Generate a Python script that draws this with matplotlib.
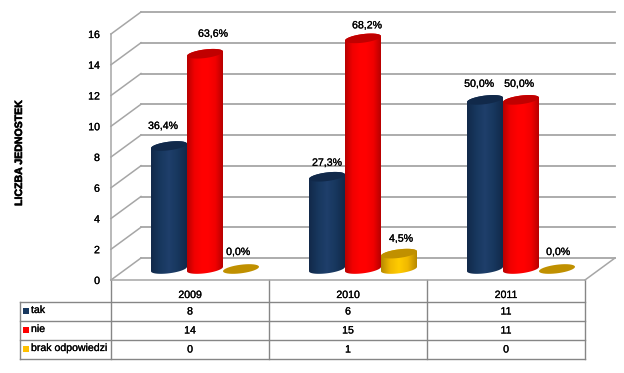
import numpy as np
import matplotlib
matplotlib.use('Agg')
import matplotlib.pyplot as plt
import matplotlib.patheffects as pe
from matplotlib.colors import LinearSegmentedColormap
from matplotlib.patches import Polygon
from matplotlib.transforms import IdentityTransform, ScaledTranslation, blended_transform_factory

years = ['2009', '2010', '2011']
series = ['tak', 'nie', 'brak odpowiedzi']
tak = [8, 6, 11]
nie = [14, 15, 11]
brak = [0, 1, 0]
tak_pct = ['36,4%', '27,3%', '50,0%']
nie_pct = ['63,6%', '68,2%', '50,0%']
brak_pct = ['0,0%', '4,5%', '0,0%']
y_ticks = [0, 2, 4, 6, 8, 10, 12, 14, 16]

# label shift from bar top, pixels
tak_dx = [-6, 0, -6]
nie_dx = [8, 4, -2]
brak_dx = [-3, 2, 1]
tak_dy = [20, 14, 16]
nie_dy = [20, 13, 16]
brak_dy = [17, 15, 17]

W, H = 624, 373
DEPTH_X, DEPTH_Y = 30, 22
RX, RY, TILT = 18, 4.3, 2.2
GRID = '#a6a6a6'
LINE = '#868686'
FS = 7.6

plt.rcParams['font.family'] = ['Liberation Sans', 'DejaVu Sans']
plt.rcParams['font.size'] = FS
heavy = [pe.withStroke(linewidth=0.18, foreground='black')]

fig = plt.figure(figsize=(W / 100, H / 100), dpi=100, facecolor='white')

# pixel layer for table lines
frame = fig.add_axes([0, 0, 1, 1])
frame.set_xlim(0, W)
frame.set_ylim(H, 0)
frame.axis('off')

ax = fig.add_axes([111 / W, (H - 280) / H, 474 / W, 246 / H])
ax.set_xlim(-0.5, 2.5)
ax.set_ylim(0, 16)
ax.patch.set_alpha(0)
for s in ['top', 'right']:
    ax.spines[s].set_visible(False)
for s in ['left', 'bottom']:
    ax.spines[s].set_color(GRID)
    ax.spines[s].set_linewidth(1.1)
ax.set_xticks([])
ax.set_yticks(y_ticks)
ax.tick_params(axis='y', length=0, pad=8, labelsize=FS)
for t in ax.get_yticklabels():
    t.set_path_effects(heavy)
ax.set_ylabel('LICZBA JEDNOSTEK', fontweight='bold', fontsize=7.6, labelpad=0,
              path_effects=[pe.withStroke(linewidth=0.4, foreground='black')])
ax.yaxis.set_label_coords(-87 / 474, 0.515)

# back wall grid
back = ax.transData + ScaledTranslation(DEPTH_X / 100, DEPTH_Y / 100, fig.dpi_scale_trans)
for v in y_ticks:
    ax.plot([-0.5, 2.5], [v, v], color=GRID, lw=1.3, transform=back, clip_on=False, zorder=1)
    p0 = ax.transData.transform((-0.5, v))
    ax.plot([p0[0], p0[0] + DEPTH_X], [p0[1], p0[1] + DEPTH_Y], color=GRID, lw=1.1,
            transform=IdentityTransform(), clip_on=False, zorder=1)
p1 = ax.transData.transform((2.5, 0))
ax.plot([p1[0], p1[0] + DEPTH_X], [p1[1], p1[1] + DEPTH_Y], color=GRID, lw=1.1,
        transform=IdentityTransform(), clip_on=False, zorder=1)


def ellipse_pts(cx, cy, t0, t1, n=40):
    t = np.linspace(t0, t1, n)
    return np.column_stack([cx + RX * np.cos(t), cy + RY * np.sin(t) + TILT * np.cos(t)])


def cylinder(cat, slot, value, shades, top_color, label, dx, dy):
    # slot centre in categories, then shifted half way into the depth
    base = ax.transData.transform((cat + (slot - 1) * 36 / 158, 0))
    top = ax.transData.transform((cat + (slot - 1) * 36 / 158, value))
    cx = base[0] + 15
    y0 = base[1] + 11
    y1 = top[1] + 11
    if value > 0:
        outline = np.vstack([ellipse_pts(cx, y1, 0, np.pi), ellipse_pts(cx, y0, np.pi, 2 * np.pi)])
        body = Polygon(outline, closed=True, transform=IdentityTransform(), fc='none', ec='none')
        ax.add_patch(body)
        cmap = LinearSegmentedColormap.from_list('c', shades)
        inv = ax.transData.inverted()
        a = inv.transform((cx - RX, y0 - RY - 3))
        b = inv.transform((cx + RX, y1 + RY + 3))
        im = ax.imshow(np.linspace(0, 1, 72).reshape(1, -1), cmap=cmap, aspect='auto',
                       extent=[a[0], b[0], a[1], b[1]], zorder=3, interpolation='bilinear')
        im.set_clip_path(body)
        im.set_clip_box(fig.bbox)
    ax.add_patch(Polygon(ellipse_pts(cx, y1, 0, 2 * np.pi), closed=True, transform=IdentityTransform(),
                         fc=top_color, ec='none', zorder=3, clip_on=False))
    ax.text(cx + dx, y1 + dy, label, transform=IdentityTransform(), ha='center', va='center',
            fontsize=FS, color='black', clip_on=False, zorder=4, path_effects=heavy)


navy = ['#12294a', '#17375e', '#1f3f6b', '#17375e', '#12294a']
red = ['#b80000', '#f00000', '#ff0000', '#ff0000', '#f00000', '#b80000']
yellow = ['#b88a00', '#f0b800', '#ffcc00', '#f0b800', '#b88a00']

for i in range(3):
    cylinder(i, 0, tak[i], navy, '#11294a', tak_pct[i], tak_dx[i], tak_dy[i])
    cylinder(i, 1, nie[i], red, '#c00000', nie_pct[i], nie_dx[i], nie_dy[i])
    cylinder(i, 2, brak[i], yellow, '#c09000', brak_pct[i], brak_dx[i], brak_dy[i])
ax.set_xlim(-0.5, 2.5)
ax.set_ylim(0, 16)

# data table
row_y = [280, 302, 321, 340, 359]
col_x = [20, 111, 269, 427, 585]
for x in col_x[1:]:
    frame.plot([x, x], [row_y[0], row_y[-1]], color=LINE, lw=1)
frame.plot([col_x[0], col_x[0]], [row_y[1], row_y[-1]], color=LINE, lw=1)
for y in row_y[1:]:
    frame.plot([col_x[0], col_x[-1]], [y, y], color=LINE, lw=1)

cells = [tak, nie, brak]
swatch = ['#17375e', '#ff0000', '#ffc000']
xt = blended_transform_factory(ax.transData, frame.transData)
for i, year in enumerate(years):
    ax.text(i, 295, year, transform=xt, ha='center', va='center', fontsize=FS, clip_on=False, path_effects=heavy)
    for r in range(3):
        ax.text(i, (row_y[r + 1] + row_y[r + 2]) / 2, str(cells[r][i]), transform=xt, ha='center', va='center',
                fontsize=FS, clip_on=False, path_effects=heavy)
for r, name in enumerate(series):
    yc = (row_y[r + 1] + row_y[r + 2]) / 2 - 1
    frame.add_patch(plt.Rectangle((23, yc - 3), 6, 6, fc=swatch[r], ec='none'))
    frame.text(31, yc - 0.5, name, ha='left', va='center', fontsize=FS, path_effects=heavy)

fig.savefig('out.png', dpi=100)
